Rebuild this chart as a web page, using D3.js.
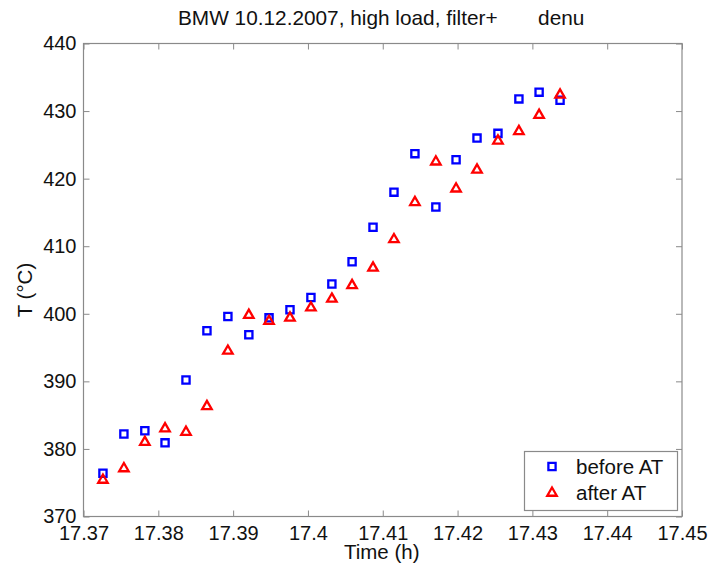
<!DOCTYPE html>
<html>
<head>
<meta charset="utf-8">
<script src="https://cdn.jsdelivr.net/npm/d3@7"></script>
<style>
  html, body { margin: 0; padding: 0; background: #fff; }
  svg { display: block; font-family: Arial, "Liberation Sans", sans-serif; }
</style>
</head>
<body>
<svg id="chart" width="714" height="571"></svg>
<script>
// Sample times (h), one reading every 10 s
const times = [17.3726, 17.3754, 17.3782, 17.3809, 17.3837, 17.3865, 17.3893, 17.3921,
  17.3948, 17.3976, 17.4004, 17.4032, 17.4059, 17.4087, 17.4115, 17.4143,
  17.4171, 17.4198, 17.4226, 17.4254, 17.4282, 17.4309, 17.4337];

// Temperatures (°C) before and after the aftertreatment
const beforeAT = [376.4, 382.2, 382.7, 380.9, 390.2, 397.5, 399.6, 396.9,
  399.4, 400.6, 402.4, 404.4, 407.7, 412.8, 418.0, 423.7,
  415.8, 422.8, 426.0, 426.7, 431.8, 432.8, 431.6];
const afterAT = [375.4, 377.1, 381.0, 383.0, 382.5, 386.3, 394.5, 399.8,
  398.9, 399.4, 400.9, 402.2, 404.2, 406.8, 411.0, 416.5,
  422.5, 418.5, 421.3, 425.6, 427.0, 429.4, 432.4];

const xTicks = [17.37, 17.38, 17.39, 17.40, 17.41, 17.42, 17.43, 17.44, 17.45];
const yTicks = [370, 380, 390, 400, 410, 420, 430, 440];
const seriesNames = ["before AT", "after AT"];

const svg = d3.select("#chart");
const plotL = 83.5, plotR = 682, plotT = 43.5, plotB = 516.5;
const axisColor = "#8a8a8a";
const fontSize = "20px";
const fontFamily = "Arial, 'Liberation Sans', sans-serif";

const x = d3.scaleLinear().domain([17.37, 17.45]).range([plotL, plotR]);
const y = d3.scaleLinear().domain([370, 440]).range([plotB, plotT]);

// Title
svg.append("text")
  .attr("x", 178).attr("y", 25)
  .attr("font-size", "20.8px").attr("fill", "#111")
  .style("white-space", "pre")
  .text("BMW 10.12.2007, high load, filter+       denu");

// Axes with inward ticks on all four sides
const tickLen = 6;
const fmtX = d => String(+d.toFixed(2));
svg.append("g")
  .attr("transform", `translate(0,${plotB})`)
  .call(d3.axisBottom(x).tickValues(xTicks).tickSize(-tickLen).tickPadding(9.5).tickFormat(fmtX))
  .call(g => g.select(".domain").remove())
  .call(g => g.selectAll("line").attr("stroke", axisColor))
  .call(g => g.selectAll("text").attr("font-size", fontSize).attr("fill", "#111").attr("font-family", fontFamily));
svg.append("g")
  .attr("transform", `translate(0,${plotT})`)
  .call(d3.axisTop(x).tickValues(xTicks).tickSize(-tickLen).tickFormat(""))
  .call(g => g.select(".domain").remove())
  .call(g => g.selectAll("line").attr("stroke", axisColor));
svg.append("g")
  .attr("transform", `translate(${plotL},0)`)
  .call(d3.axisLeft(y).tickValues(yTicks).tickSize(-tickLen).tickPadding(7))
  .call(g => g.select(".domain").remove())
  .call(g => g.selectAll("line").attr("stroke", axisColor))
  .call(g => g.selectAll("text").attr("font-size", fontSize).attr("fill", "#111").attr("font-family", fontFamily));
svg.append("g")
  .attr("transform", `translate(${plotR},0)`)
  .call(d3.axisRight(y).tickValues(yTicks).tickSize(-tickLen).tickFormat(""))
  .call(g => g.select(".domain").remove())
  .call(g => g.selectAll("line").attr("stroke", axisColor));

// Plot frame
svg.append("rect")
  .attr("x", plotL).attr("y", plotT)
  .attr("width", plotR - plotL).attr("height", plotB - plotT)
  .attr("fill", "none").attr("stroke", axisColor).attr("stroke-width", 1.2);

// Axis labels
svg.append("text")
  .attr("x", (plotL + plotR) / 2 - 1).attr("y", 559)
  .attr("text-anchor", "middle").attr("font-size", "20.5px").attr("fill", "#111")
  .text("Time (h)");
svg.append("text")
  .attr("transform", "translate(32,290) rotate(-90)")
  .attr("text-anchor", "middle").attr("font-size", "20.5px").attr("fill", "#111")
  .text("T (°C)");

// Marker shapes
const squarePath = d3.symbol().type(d3.symbolSquare).size(52);
const triPath = (cx, cy) => {
  const s = 9.5, h = s * Math.sqrt(3) / 2;
  return `M${cx},${cy - h * 2 / 3}L${cx + s / 2},${cy + h / 3}L${cx - s / 2},${cy + h / 3}Z`;
};

const blue = "#0000ff", red = "#ff0000";

svg.append("g").selectAll("path")
  .data(times.map((t, i) => [t, beforeAT[i]]))
  .join("path")
  .attr("d", squarePath)
  .attr("transform", d => `translate(${x(d[0])},${y(d[1])})`)
  .attr("fill", "none").attr("stroke", blue).attr("stroke-width", 2.3);

svg.append("g").selectAll("path")
  .data(times.map((t, i) => [t, afterAT[i]]))
  .join("path")
  .attr("d", d => triPath(x(d[0]), y(d[1])))
  .attr("fill", "none").attr("stroke", red).attr("stroke-width", 2.3)
  .attr("stroke-linejoin", "miter");

// Legend
const lg = svg.append("g");
lg.append("rect")
  .attr("x", 524.5).attr("y", 451.5).attr("width", 153).attr("height", 59)
  .attr("fill", "#fff").attr("stroke", axisColor).attr("stroke-width", 1.2);
lg.append("path").attr("d", squarePath)
  .attr("transform", "translate(552,466.5)")
  .attr("fill", "none").attr("stroke", blue).attr("stroke-width", 2.3);
lg.append("path").attr("d", triPath(552, 493))
  .attr("fill", "none").attr("stroke", red).attr("stroke-width", 2.3);
seriesNames.forEach((name, i) => {
  lg.append("text")
    .attr("x", 576).attr("y", 473.5 + i * 26)
    .attr("font-size", "20.5px").attr("fill", "#111")
    .text(name);
});
</script>
</body>
</html>
